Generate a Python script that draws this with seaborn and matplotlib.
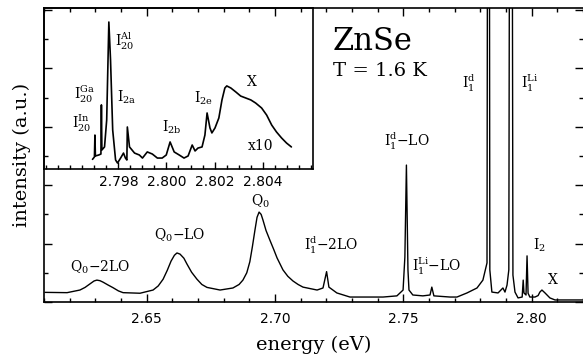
import numpy as np
import pandas as pd
import seaborn as sns
import matplotlib.pyplot as plt
from matplotlib.ticker import MultipleLocator, FormatStrFormatter

sns.set_theme(style='ticks')
plt.rcParams['font.family'] = ['DejaVu Serif']
plt.rcParams['mathtext.fontset'] = 'dejavuserif'
plt.rcParams['text.color'] = 'black'

# %% data (energy in eV, intensity in a.u.)

energy = [2.6104, 2.6190, 2.6240, 2.6260, 2.6279, 2.6295, 2.6306, 2.6318, 2.6330,
          2.6350, 2.6369, 2.6390, 2.6408, 2.6474,
          2.6525, 2.6545, 2.6564, 2.6580, 2.6595, 2.6608, 2.6618, 2.6630, 2.6645,
          2.6657, 2.6675, 2.6696, 2.6715, 2.6735, 2.6786,
          2.6836, 2.6860, 2.6875, 2.6890, 2.6902, 2.6912, 2.6922, 2.6930, 2.6938,
          2.6946, 2.6953, 2.6965, 2.6980, 2.6995, 2.7008, 2.7031, 2.7050, 2.7070,
          2.7090, 2.7109, 2.7164, 2.7187, 2.7201, 2.7210, 2.7241, 2.7292, 2.7421,
          2.7475, 2.7499, 2.7506, 2.7512, 2.7518, 2.7522, 2.7537, 2.7576, 2.7604,
          2.7611, 2.7619, 2.7682, 2.7709, 2.7748, 2.7787, 2.7810, 2.7826, 2.7832,
          2.7837, 2.7845, 2.7869, 2.7888, 2.7896, 2.7904, 2.7911, 2.7919, 2.7927,
          2.7935, 2.7947, 2.7963, 2.7967, 2.7970, 2.7978, 2.7982, 2.7986, 2.7993,
          2.8013, 2.8025, 2.8032, 2.8040, 2.8052, 2.8071, 2.8091, 2.8188, 2.8200]
intensity = [0.33, 0.32, 0.41, 0.50, 0.62, 0.72, 0.75, 0.73, 0.68,
             0.58, 0.49, 0.38, 0.32, 0.30,
             0.41, 0.55, 0.78, 1.08, 1.40, 1.60, 1.68, 1.64, 1.50,
             1.30, 1.02, 0.78, 0.60, 0.50, 0.41,
             0.48, 0.60, 0.75, 1.00, 1.38, 1.90, 2.47, 2.90, 3.08,
             3.00, 2.81, 2.45, 2.12, 1.80, 1.51, 1.10, 0.88, 0.72,
             0.60, 0.51, 0.41, 0.48, 1.04, 0.51, 0.31, 0.17, 0.17,
             0.21, 0.41, 1.54, 4.69, 1.10, 0.41, 0.24, 0.21, 0.24,
             0.51, 0.21, 0.17, 0.17, 0.31, 0.48, 0.75, 1.34, 40.0,
             1.10, 0.34, 0.31, 0.48, 0.34, 0.58, 1.10, 40.0, 0.92,
             0.34, 0.14, 0.17, 0.75, 0.31, 0.24, 1.58, 0.30, 0.17,
             0.17, 0.22, 0.34, 0.41, 0.31, 0.14, 0.07, 0.07, 0.07]

inset_energy = [2.79692, 2.79700, 2.79702, 2.79704, 2.79718, 2.79727, 2.79729, 2.79731,
                2.79742, 2.79751, 2.79760, 2.79767, 2.79776, 2.79788, 2.79796, 2.79809,
                2.79821, 2.79829, 2.79835, 2.79837, 2.79846, 2.79867, 2.79887, 2.79900,
                2.79920, 2.79941, 2.79962, 2.79982, 2.79999, 2.80015, 2.80032, 2.80053,
                2.80073, 2.80090, 2.80107, 2.80119, 2.80131, 2.80148, 2.80160, 2.80169,
                2.80181, 2.80189, 2.80202, 2.80218, 2.80231, 2.80243, 2.80251, 2.80268,
                2.80289, 2.80309, 2.80330, 2.80351, 2.80371, 2.80396, 2.80417, 2.80438,
                2.80458, 2.80479, 2.80500, 2.80520]
inset_intensity = [0.60, 0.75, 2.11, 0.81, 0.87, 0.93, 3.98, 1.18,
                   1.37, 3.04, 9.13, 6.77, 2.42, 0.56, 0.37, 0.68,
                   0.99, 0.68, 0.56, 2.61, 1.37, 0.99, 0.87, 0.68,
                   1.06, 0.93, 0.68, 0.68, 0.87, 1.68, 1.06, 0.87,
                   0.68, 0.81, 1.49, 1.12, 1.30, 1.37, 2.11, 3.48,
                   2.55, 2.24, 2.55, 3.17, 4.29, 5.03, 5.16, 5.03,
                   4.78, 4.53, 4.41, 4.29, 4.10, 3.79, 3.35, 2.73,
                   2.30, 1.93, 1.61, 1.37]

inset_ticks = [2.798, 2.800, 2.802, 2.804]

# peak labels: (text, energy, intensity)
main_labels = [('Q$_0$−2LO', 2.6318, 1.20),
               ('Q$_0$−LO', 2.6630, 2.30),
               ('Q$_0$', 2.6945, 3.46),
               (r'I$_1^{\rm d}$−2LO', 2.7218, 1.95),
               (r'I$_1^{\rm d}$−LO', 2.7514, 5.50),
               (r'I$_1^{\rm Li}$−LO', 2.7630, 1.23),
               (r'I$_1^{\rm d}$', 2.7756, 7.50),
               (r'I$_1^{\rm Li}$', 2.7993, 7.50),
               ('I$_2$', 2.8032, 1.95),
               ('X', 2.8083, 0.75)]
inset_labels = [(r'I$_{20}^{\rm Al}$', 2.79825, 7.9),
                (r'I$_{20}^{\rm Ga}$', 2.79660, 4.66),
                (r'I$_{20}^{\rm In}$', 2.79647, 2.86),
                (r'I$_{\rm 2a}$', 2.79833, 4.47),
                (r'I$_{\rm 2b}$', 2.80024, 2.60),
                (r'I$_{\rm 2e}$', 2.80156, 4.40),
                ('X', 2.80355, 5.40),
                ('x10', 2.80392, 1.43)]

df = pd.DataFrame({'energy': energy, 'intensity': intensity})
df_in = pd.DataFrame({'energy': inset_energy, 'intensity': inset_intensity})

# %% figure

fig = plt.figure(figsize=(5.83, 3.58), dpi=100)
ax = fig.add_axes([44/583, 1-302/358, 1-44/583, 294/358])
ins = fig.add_axes([44/583, 1-169/358, 269/583, 161/358])
ins.set_facecolor('none')

sns.lineplot(data=df, x='energy', y='intensity', ax=ax, color='black',
             linewidth=1.0, sort=False, estimator=None)
ax.set_xlim(2.61, 2.82)
ax.set_ylim(0, 10.07)
ax.xaxis.set_major_locator(MultipleLocator(0.05))
ax.xaxis.set_minor_locator(MultipleLocator(0.01))
ax.xaxis.set_major_formatter(FormatStrFormatter('%.2f'))
ax.yaxis.set_major_locator(MultipleLocator(2))
ax.yaxis.set_minor_locator(MultipleLocator(1))
ax.tick_params(which='both', direction='in', top=True, right=True,
               labelleft=False, color='black', width=1.0)
ax.tick_params(which='major', length=6, pad=7)
ax.tick_params(which='minor', length=3)
ax.tick_params(axis='x', labelsize=10, labelcolor='black', labelfontfamily='DejaVu Sans')
ax.spines['right'].set_visible(False)
for s in ['left', 'top', 'bottom']:
    ax.spines[s].set_linewidth(1.2)
    ax.spines[s].set_color('black')
ax.set_xlabel('energy (eV)', fontsize=14, labelpad=7, color='black')
ax.set_ylabel('intensity (a.u.)', fontsize=14, labelpad=9, color='black')

for txt, x, y in main_labels:
    ax.text(x, y, txt, fontsize=10, ha='center', va='center')

ax.text(2.7226, 8.92, 'ZnSe', fontsize=22, ha='left', va='center', fontweight='light')
ax.text(2.7226, 7.9, 'T = 1.6 K', fontsize=14, ha='left', va='center')

sns.lineplot(data=df_in, x='energy', y='intensity', ax=ins, color='black',
             linewidth=1.2, sort=False, estimator=None)
ins.set_xlim(2.7949, 2.8061)
ins.set_ylim(0, 10)
ins.set_xticks(inset_ticks)
ins.xaxis.set_minor_locator(MultipleLocator(0.0005))
ins.xaxis.set_major_formatter(FormatStrFormatter('%.3f'))
ins.set_yticks([])
ins.tick_params(which='both', direction='in', color='black', width=1.0,
                labelsize=10, labelcolor='black', labelfontfamily='DejaVu Sans')
ins.tick_params(which='major', length=5, pad=4)
ins.tick_params(which='minor', length=3)
for s in ins.spines.values():
    s.set_linewidth(1.2)
    s.set_color('black')
ins.set_xlabel('')
ins.set_ylabel('')

for txt, x, y in inset_labels:
    ins.text(x, y, txt, fontsize=10, ha='center', va='center')

fig.savefig('out.png', dpi=100)
